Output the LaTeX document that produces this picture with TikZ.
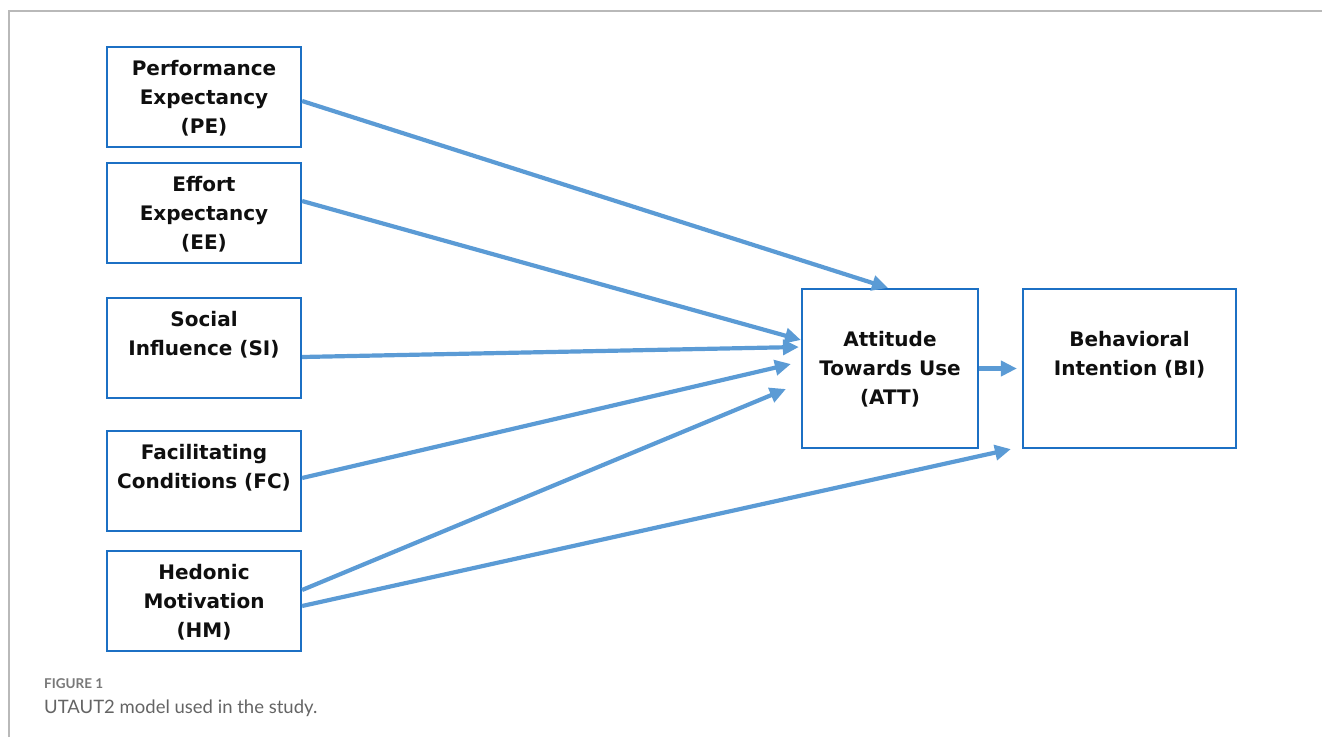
\documentclass[tikz,border=0pt]{standalone}
\usepackage{fontspec}
\usetikzlibrary{arrows.meta}
\newfontfamily\dejavu{DejaVu Sans}
\newfontfamily\latofont{Lato}
\definecolor{boxblue}{RGB}{28,112,196}
\definecolor{arrowblue}{RGB}{91,155,213}
\definecolor{framegray}{RGB}{185,185,185}
\definecolor{capgray}{RGB}{120,120,120}
\definecolor{captext}{RGB}{100,100,100}
\definecolor{txt}{RGB}{15,15,15}
\newcommand\tstr{\rule{0pt}{21.6pt}}
\newcommand\bstr{\rule[-7.4pt]{0pt}{7.4pt}}
\tikzset{
  modelbox/.style={draw=boxblue, line width=2.2pt, align=center, inner sep=0pt,
    text=txt, font=\dejavu\bfseries\fontsize{20}{29}\selectfont},
  leftbox/.style={modelbox, minimum width=194pt, minimum height=100pt},
  conn/.style={draw=arrowblue, line width=4.2pt, -{Triangle[length=16pt,width=15pt]}},
}
\begin{document}
\begin{tikzpicture}[x=1pt,y=-1pt]
\useasboundingbox (0,0) rectangle (1322,737);
\draw[framegray, line width=2pt] (9,737) -- (9,11) -- (1322,11);

\node[leftbox] (pe) at (204,97) {\tstr Performance\\Expectancy\\(PE)\bstr};
\node[leftbox] (ee) at (204,213) {\tstr Effort\\Expectancy\\(EE)\bstr};
\node[leftbox] (si) at (204,348) {\tstr Social\\Influence (SI)\\\bstr};
\node[leftbox] (fc) at (204,481) {\tstr Facilitating\\Conditions (FC)\\\bstr};
\node[leftbox] (hm) at (204,601) {\tstr Hedonic\\Motivation\\(HM)\bstr};
\node[modelbox, minimum width=176pt, minimum height=159pt] (att) at (890,368.5) {\tstr Attitude\\Towards Use\\(ATT)\bstr};
\node[modelbox, minimum width=213pt, minimum height=159pt] (bi) at (1129.5,368.5) {\tstr Behavioral\\Intention (BI)\\\bstr};

\draw[conn] ([yshift=-4pt]pe.east) -- ([xshift=-2pt]att.north);
\draw[conn] ([yshift=12pt]ee.east) -- ([yshift=28.5pt]att.west);
\draw[conn] ([yshift=-9pt]si.east) -- ([xshift=-2pt,yshift=21.5pt]att.west);
\draw[conn] ([yshift=3pt]fc.east) -- ([xshift=-10pt,yshift=4.5pt]att.west);
\draw[conn] ([yshift=11pt]hm.east) -- ([xshift=-15pt,yshift=-20.5pt]att.west);
\draw[conn] ([yshift=-5pt]hm.east) -- ([xshift=-11pt]bi.south west);
\draw[conn] (att.east) -- ([xshift=-5pt]att.east -| bi.west);

\node[anchor=base west, inner sep=0pt, text=capgray, font=\latofont\bfseries\fontsize{13.5}{16}\selectfont] (figlabel) at (44,688) {FIGURE 1};
\node[anchor=base west, inner sep=0pt, text=captext, font=\latofont\fontsize{18.5}{22}\selectfont] (caption) at (44,713) {UTAUT2 model used in the study.};
\end{tikzpicture}
\end{document}
